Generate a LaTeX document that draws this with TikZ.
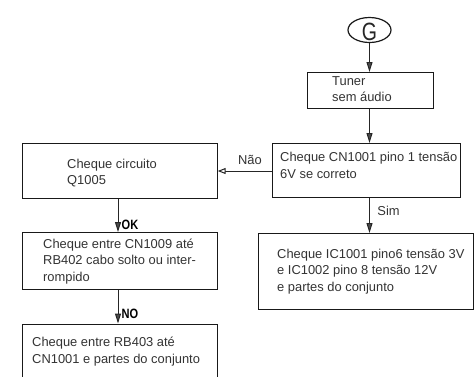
\documentclass[tikz,border=0pt]{standalone}
\usepackage{fontspec}
\setmainfont{Liberation Sans}
\usetikzlibrary{arrows.meta,shapes.geometric}
\tikzset{
  boxnode/.style={draw=black!90, line width=1.2pt, inner sep=0pt, anchor=north west},
  txt/.style={anchor=west, align=left, inner sep=0pt, text=black!80,
    font=\fontsize{12.9}{16.5}\selectfont},
  conn/.style={draw=black!85, line width=1pt},
  downarrow/.style={conn, -{Triangle[length=10pt,width=6pt,fill=black!70]}},
  openarrow/.style={conn, -{Triangle[open,length=8pt,width=6pt,fill=white]}},
  lbl/.style={inner sep=0pt, text=black!80, font=\fontsize{12.9}{14}\selectfont},
  blbl/.style={inner sep=0pt, text=black, font=\fontsize{13.5}{14}\selectfont\bfseries}
}
\begin{document}
\begin{tikzpicture}[x=1pt,y=-1pt]
\useasboundingbox (0,0) rectangle (474,376);
\clip (0,0) rectangle (474,376);
% start oval
\node[draw=black!90, line width=1.2pt, ellipse, minimum width=43pt, minimum height=25pt, inner sep=0pt] (g) at (369.5,30) {};
\node[inner sep=0pt, font=\fontsize{25}{25}\selectfont, text=black!85] (gt) at (369.5,32) {\scalebox{0.78}[1]{G}};
% boxes
\node[boxnode, minimum width=126pt, minimum height=36pt] (tuner) at (307,72) {};
\node[txt] (tunert) at (332,89) {Tuner\\sem áudio};
\node[boxnode, minimum width=188pt, minimum height=54pt] (cn) at (272,143) {};
\node[txt] (cnt) at (280,165.5) {Cheque CN1001 pino 1 tensão\\6V se correto};
\node[boxnode, minimum width=215pt, minimum height=76pt] (ic) at (258,233) {};
\node[txt] (ict) at (277,271.5) {Cheque IC1001 pino6 tensão 3V\\e IC1002 pino 8 tensão 12V\\e partes do conjunto};
\node[boxnode, minimum width=195pt, minimum height=55pt] (q) at (21.5,143) {};
\node[txt] (qt) at (67,173) {Cheque circuito\\Q1005};
\node[boxnode, minimum width=195pt, minimum height=57pt] (rb) at (21.5,232) {};
\node[txt] (rbt) at (43,261.5) {Cheque entre CN1009 até\\RB402 cabo solto ou inter-\\rompido};
\node[boxnode, minimum width=195pt, minimum height=70pt] (cj) at (21.5,323.5) {};
\node[txt] (cjt) at (32,351.5) {Cheque entre RB403 até\\CN1001 e partes do conjunto};
% connectors
\draw[downarrow] (g.south) -- (tuner.north -| g.south);
\draw[downarrow] (tuner.south -| g.south) -- (cn.north -| g.south);
\draw[downarrow] (cn.south -| g.south) -- (ic.north -| g.south);
\draw[openarrow] (cn.west |- 0,171) -- (q.east |- 0,171);
\coordinate (okx) at (118,0);
\draw[downarrow] (q.south -| okx) -- (rb.north -| okx);
\draw[downarrow] (rb.south -| okx) -- (cj.north -| okx);
% labels
\node[lbl] (sim) at (388.5,211) {Sim};
\node[lbl] (nao) at (250,160) {Não};
\node[blbl, anchor=west] (ok) at (121.5,224.5) {\scalebox{0.82}[1]{OK}};
\node[blbl, anchor=west] (no) at (121.5,313.5) {\scalebox{0.82}[1]{NO}};
\end{tikzpicture}
\end{document}
